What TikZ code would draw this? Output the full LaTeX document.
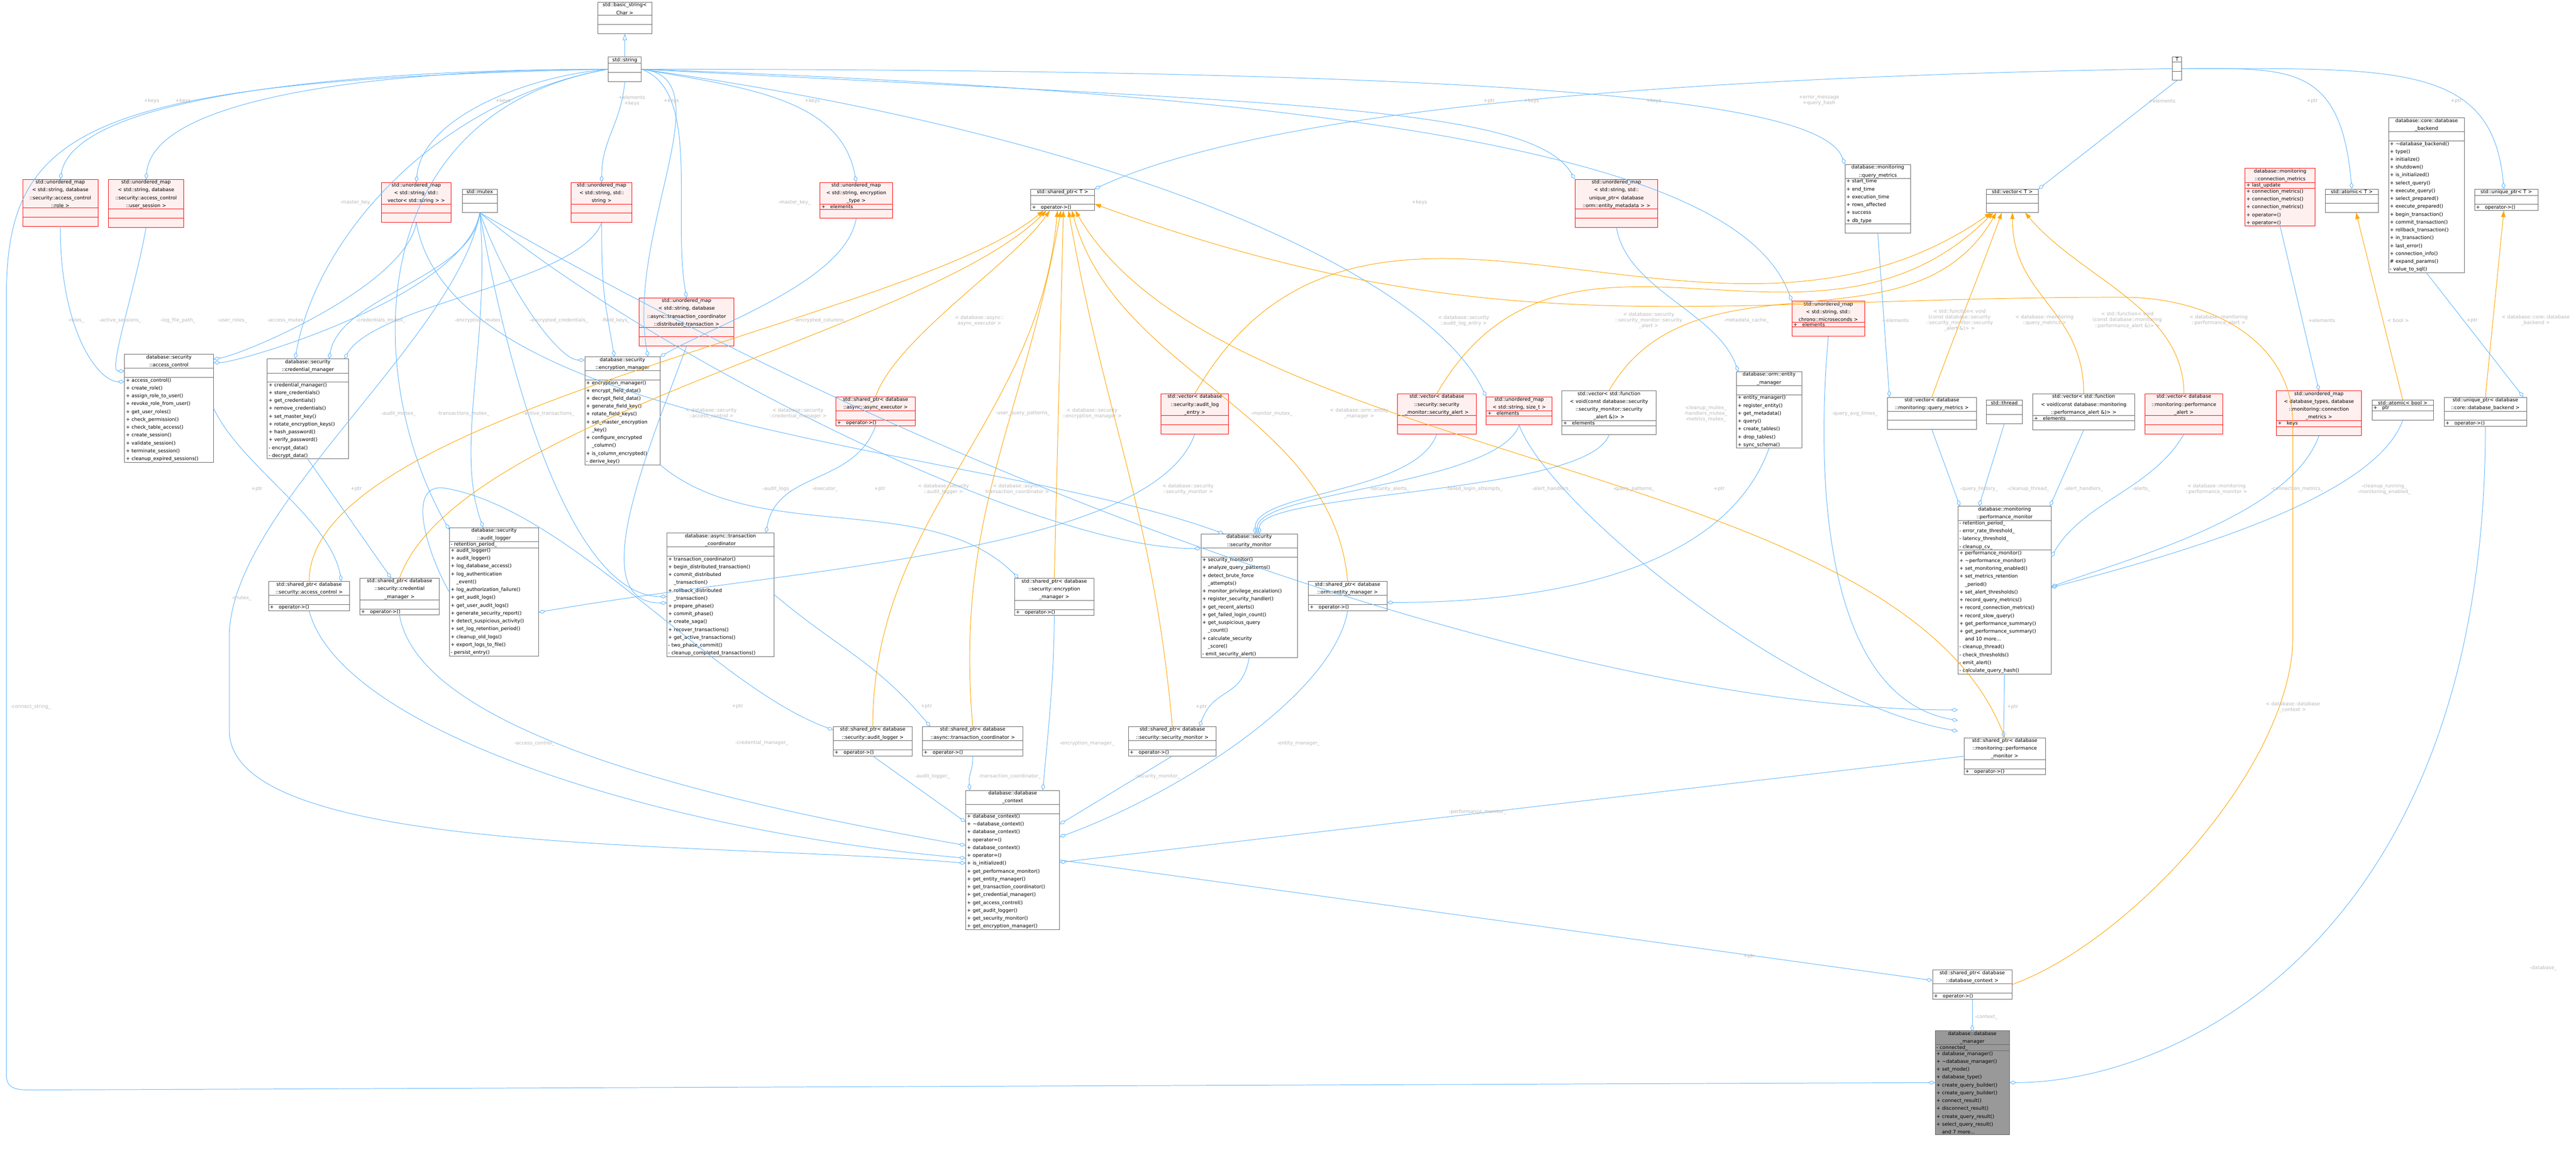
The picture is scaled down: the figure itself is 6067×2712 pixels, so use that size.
\documentclass[tikz,border=0pt]{standalone}
\usepackage{fontspec}
\setmainfont{DejaVu Sans}
\usetikzlibrary{shapes.multipart,arrows.meta}
\definecolor{eblue}{HTML}{63B8FF}
\definecolor{eorange}{HTML}{FFA500}
\definecolor{lblgray}{HTML}{B8B8B8}
\definecolor{boxgray}{HTML}{666666}
\definecolor{redfill}{HTML}{FFF0F0}
\definecolor{maingray}{HTML}{999999}
\newcommand\fs{\fontsize{11.5}{18.5}\selectfont}
\newcommand\ls{\fontsize{11.5}{13.5}\selectfont}
\newcommand\ptwo{\nodepart{two}\raggedright}
\newcommand\pthree{\nodepart{three}\raggedright}
\tikzset{
 cls/.style={draw=boxgray, fill=white, line width=1pt, rectangle split, rectangle split parts=3,
   align=left, font=\fs, inner xsep=3pt, inner ysep=1pt,
   anchor=north west, text width=#1, execute at begin node=\centering},
 rcls/.style={cls=#1, draw=red, fill=redfill},
 mcls/.style={cls=#1, fill=maingray},
 agg/.style={draw=eblue, line width=1.2pt, -{Diamond[open,length=16pt,width=9pt]}},
 tmpl/.style={draw=eorange, line width=1.2pt, -{Triangle[length=15pt,width=10pt]}},
 inh/.style={draw=eblue, line width=1.2pt, -{Triangle[open,length=15pt,width=10pt]}},
 lbl/.style={font=\ls, text=lblgray, align=center, inner sep=0pt},
}
\begin{document}
\catcode`\_=12
\begin{tikzpicture}[x=1pt,y=1pt]
\useasboundingbox (0,0) rectangle (6067,-2712);
\fill[white] (0,0) rectangle (6067,-2712);
% ---------- nodes ----------
\node[cls=122] (bs) at (1407,-5) {std::basic_string<\\Char >\ptwo\strut\pthree\strut};
\node[cls=72] (str) at (1432,-134) {std::string\ptwo\strut\pthree\strut};
\node[cls=16] (T) at (5116,-134) {T\ptwo\strut\pthree\strut};
\node[rcls=171] (umaprole) at (53,-422) {std::unordered_map\\< std::string, database\\::security::access_control\\::role >\ptwo\strut\pthree\strut};
\node[rcls=171] (umapsess) at (255,-422) {std::unordered_map\\< std::string, database\\::security::access_control\\::user_session >\ptwo\strut\pthree\strut};
\node[rcls=158] (umapvs) at (898,-429) {std::unordered_map\\< std::string, std::\\vector< std::string > >\ptwo\strut\pthree\strut};
\node[cls=77] (mutex) at (1088,-445) {std::mutex\ptwo\strut\pthree\strut};
\node[rcls=137] (umapss) at (1345,-429) {std::unordered_map\\< std::string, std::\\string >\ptwo\strut\pthree\strut};
\node[rcls=164] (umapenc) at (1931,-429) {std::unordered_map\\< std::string, encryption\\_type >\ptwo+\quad elements\pthree\strut};
\node[cls=144] (spT) at (2427,-445) {std::shared_ptr< T >\ptwo\strut\pthree+\quad operator->()};
\node[rcls=189] (umapmeta) at (3709,-422) {std::unordered_map\\< std::string, std::\\unique_ptr< database\\::orm::entity_metadata > >\ptwo\strut\pthree\strut};
\node[cls=148] (qm) at (4345,-387) {database::monitoring\\::query_metrics\ptwo+ start_time\\+ end_time\\+ execution_time\\+ rows_affected\\+ success\\+ db_type\pthree\strut};
\node[cls=116] (vecT) at (4678,-445) {std::vector< T >\ptwo\strut\pthree\strut};
\node[rcls=159] (connm) at (5287,-396) {database::monitoring\\::connection_metrics\ptwo+ last_update\pthree+ connection_metrics()\\+ connection_metrics()\\+ connection_metrics()\\+ operator=()\\+ operator=()};
\node[cls=119] (atomT) at (5476,-445) {std::atomic< T >\ptwo\strut\pthree\strut};
\node[cls=173] (backend) at (5625,-277) {database::core::database\\_backend\ptwo\strut\pthree+ \textasciitilde database_backend()\\+ type()\\+ initialize()\\+ shutdown()\\+ is_initialized()\\+ select_query()\\+ execute_query()\\+ select_prepared()\\+ execute_prepared()\\+ begin_transaction()\\+ commit_transaction()\\+ rollback_transaction()\\+ in_transaction()\\+ last_error()\\+ connection_info()\\\# expand_params()\\- value_to_sql()};
\node[cls=143] (uniqT) at (5828,-445) {std::unique_ptr< T >\ptwo\strut\pthree+\quad operator->()};
\node[cls=203] (ac) at (293,-834) {database::security\\::access_control\ptwo\strut\pthree+ access_control()\\+ create_role()\\+ assign_role_to_user()\\+ revoke_role_from_user()\\+ get_user_roles()\\+ check_permission()\\+ check_table_access()\\+ create_session()\\+ validate_session()\\+ terminate_session()\\+ cleanup_expired_sessions()};
\node[cls=185] (cm) at (629,-845) {database::security\\::credential_manager\ptwo\strut\pthree+ credential_manager()\\+ store_credentials()\\+ get_credentials()\\+ remove_credentials()\\+ set_master_key()\\+ rotate_encryption_keys()\\+ hash_password()\\+ verify_password()\\- encrypt_data()\\- decrypt_data()};
\node[cls=171] (em) at (1377,-840) {database::security\\::encryption_manager\ptwo\strut\pthree+ encryption_manager()\\+ encrypt_field_data()\\+ decrypt_field_data()\\+ generate_field_key()\\+ rotate_field_keys()\\+ set_master_encryption\\\phantom{+ }_key()\\+ configure_encrypted\\\phantom{+ }_column()\\+ is_column_encrypted()\\- derive_key()};
\node[cls=204] (al) at (1058,-1242) {database::security\\::audit_logger\ptwo- retention_period_\pthree+ audit_logger()\\+ audit_logger()\\+ log_database_access()\\+ log_authentication\\\phantom{+ }_event()\\+ log_authorization_failure()\\+ get_audit_logs()\\+ get_user_audit_logs()\\+ generate_security_report()\\+ detect_suspicious_activity()\\+ set_log_retention_period()\\+ cleanup_old_logs()\\+ export_logs_to_file()\\- persist_entry()};
\node[cls=185] (spac) at (632,-1369) {std::shared_ptr< database\\::security::access_control >\ptwo\strut\pthree+\quad operator->()};
\node[cls=181] (spcm) at (847,-1361) {std::shared_ptr< database\\::security::credential\\_manager >\ptwo\strut\pthree+\quad operator->()};
\node[rcls=217] (umapdt) at (1505,-701) {std::unordered_map\\< std::string, database\\::async::transaction_coordinator\\::distributed_transaction >\ptwo\strut\pthree\strut};
\node[rcls=181] (spae) at (1968,-934) {std::shared_ptr< database\\::async::async_executor >\ptwo\strut\pthree+\quad operator->()};
\node[rcls=153] (vecale) at (2734,-927) {std::vector< database\\::security::audit_log\\_entry >\ptwo\strut\pthree\strut};
\node[cls=247] (tc) at (1570,-1255) {database::async::transaction\\_coordinator\ptwo\strut\pthree+ transaction_coordinator()\\+ begin_distributed_transaction()\\+ commit_distributed\\\phantom{+ }_transaction()\\+ rollback_distributed\\\phantom{+ }_transaction()\\+ prepare_phase()\\+ commit_phase()\\+ create_saga()\\+ recover_transactions()\\+ get_active_transactions()\\- two_phase_commit()\\- cleanup_completed_transactions()};
\node[cls=181] (spem) at (2389,-1362) {std::shared_ptr< database\\::security::encryption\\_manager >\ptwo\strut\pthree+\quad operator->()};
\node[cls=221] (sm) at (2828,-1257) {database::security\\::security_monitor\ptwo\strut\pthree+ security_monitor()\\+ analyze_query_patterns()\\+ detect_brute_force\\\phantom{+ }_attempts()\\+ monitor_privilege_escalation()\\+ register_security_handler()\\+ get_recent_alerts()\\+ get_failed_login_count()\\+ get_suspicious_query\\\phantom{+ }_count()\\+ calculate_security\\\phantom{+ }_score()\\- emit_security_alert()};
\node[rcls=179] (vecsa) at (3291,-927) {std::vector< database\\::security::security\\_monitor::security_alert >\ptwo\strut\pthree\strut};
\node[rcls=149] (umapsz) at (3500,-934) {std::unordered_map\\< std::string, size_t >\ptwo+\quad elements\pthree\strut};
\node[cls=216] (vecfsa) at (3678,-920) {std::vector< std::function\\< void(const database::security\\::security_monitor::security\\_alert \&)> >\ptwo+\quad elements\pthree\strut};
\node[cls=148] (emgr) at (4089,-875) {database::orm::entity\\_manager\ptwo\strut\pthree+ entity_manager()\\+ register_entity()\\+ get_metadata()\\+ query()\\+ create_tables()\\+ drop_tables()\\+ sync_schema()};
\node[rcls=165] (umapus) at (4220,-709) {std::unordered_map\\< std::string, std::\\chrono::microseconds >\ptwo+\quad elements\pthree\strut};
\node[cls=203] (vecqm) at (4445,-935) {std::vector< database\\::monitoring::query_metrics >\ptwo\strut\pthree\strut};
\node[cls=179] (spemgr) at (3081,-1369) {std::shared_ptr< database\\::orm::entity_manager >\ptwo\strut\pthree+\quad operator->()};
\node[cls=78] (thread) at (4678,-942) {std::thread\ptwo\strut\pthree\strut};
\node[cls=234] (vecfpa) at (4787,-927) {std::vector< std::function\\< void(const database::monitoring\\::performance_alert \&)> >\ptwo+\quad elements\pthree\strut};
\node[rcls=178] (vecpa) at (5051,-927) {std::vector< database\\::monitoring::performance\\_alert >\ptwo\strut\pthree\strut};
\node[rcls=194] (umapcm) at (5361,-920) {std::unordered_map\\< database_types, database\\::monitoring::connection\\_metrics >\ptwo+\quad keys\pthree\strut};
\node[cls=139] (atomb) at (5586,-942) {std::atomic< bool >\ptwo+\quad ptr\pthree\strut};
\node[cls=188] (uniqb) at (5756,-935) {std::unique_ptr< database\\::core::database_backend >\ptwo\strut\pthree+\quad operator->()};
\node[cls=213] (pm) at (4611,-1192) {database::monitoring\\::performance_monitor\ptwo- retention_period_\\- error_rate_threshold_\\- latency_threshold_\\- cleanup_cv_\pthree+ performance_monitor()\\+ \textasciitilde performance_monitor()\\+ set_monitoring_enabled()\\+ set_metrics_retention\\\phantom{+ }_period()\\+ set_alert_thresholds()\\+ record_query_metrics()\\+ record_connection_metrics()\\+ record_slow_query()\\+ get_performance_summary()\\+ get_performance_summary()\\\phantom{+ }and 10 more...\\- cleanup_thread()\\- check_thresholds()\\- emit_alert()\\- calculate_query_hash()};
\node[cls=186] (sppm) at (4625,-1737) {std::shared_ptr< database\\::monitoring::performance\\_monitor >\ptwo\strut\pthree+\quad operator->()};
\node[cls=201] (spsm) at (2657,-1711) {std::shared_ptr< database\\::security::security_monitor >\ptwo\strut\pthree+\quad operator->()};
\node[cls=180] (spal) at (1962,-1711) {std::shared_ptr< database\\::security::audit_logger >\ptwo\strut\pthree+\quad operator->()};
\node[cls=231] (sptc) at (2172,-1711) {std::shared_ptr< database\\::async::transaction_coordinator >\ptwo\strut\pthree+\quad operator->()};
\node[cls=215] (dbc) at (2274,-1861) {database::database\\_context\ptwo\strut\pthree+ database_context()\\+ \textasciitilde database_context()\\+ database_context()\\+ operator=()\\+ database_context()\\+ operator=()\\+ is_initialized()\\+ get_performance_monitor()\\+ get_entity_manager()\\+ get_transaction_coordinator()\\+ get_credential_manager()\\+ get_access_control()\\+ get_audit_logger()\\+ get_security_monitor()\\+ get_encryption_manager()};
\node[cls=181] (spdbc) at (4551,-2284) {std::shared_ptr< database\\::database_context >\ptwo\strut\pthree+\quad operator->()};
\node[mcls=169] (dbm) at (4557,-2427) {database::database\\_manager\ptwo- connected_\pthree+ database_manager()\\+ \textasciitilde database_manager()\\+ set_mode()\\+ database_type()\\+ create_query_builder()\\+ create_query_builder()\\+ connect_result()\\+ disconnect_result()\\+ create_query_result()\\+ select_query_result()\\\phantom{+ }and 7 more...};
% ---------- blue edges ----------
\draw[inh] (str.north) -- (bs.south);
\draw[agg] (str.west) .. controls +(180:600) and +(80:200) .. (umaprole.north);
\draw[agg] (str.west) .. controls +(180:500) and +(85:200) .. (umapsess.north);
\draw[agg] (str.west) .. controls +(185:200) and +(85:150) .. (umapvs.north);
\draw[agg] (str.south) .. controls +(-95:100) and +(90:100) .. (umapss.north);
\draw[agg] (str.east) .. controls +(-20:150) and +(100:200) .. (umapdt.north);
\draw[agg] (str.east) .. controls +(-10:250) and +(100:200) .. (umapenc.north);
\draw[agg] (str.west) .. controls +(190:400) and +(80:300) .. ([xshift=-30pt]cm.north);
\draw[agg] (str.west) .. controls +(190:600) and +(120:400) .. ([yshift=-5pt]al.north west);
\draw[agg] (str.east) .. controls +(-5:200) and +(100:300) .. ([xshift=60pt]em.north);
\draw[agg] (str.east) .. controls +(-3:1500) and +(120:200) .. (umapmeta.north west);
\draw[agg] (str.east) .. controls +(-2:2000) and +(110:300) .. (umapus.north west);
\draw[agg] (str.east) .. controls +(-8:1200) and +(115:300) .. (umapsz.north west);
\draw[agg] (str.east) .. controls +(0:2200) and +(110:150) .. (qm.north west);
\draw[agg] (str.west) .. controls (200,-190) and (15,-300) .. (15,-700) -- (15,-2530) .. controls (15,-2560) and (30,-2567) .. (70,-2567) -- (dbm.west);
\draw[agg] (T.west) .. controls (4000,-180) and (3000,-250) .. (spT.north east);
\draw[agg] (T.south) -- (vecT.north east);
\draw[agg] (T.east) .. controls +(0:250) and +(95:300) .. (atomT.north);
\draw[agg] (T.east) .. controls +(0:500) and +(95:300) .. ([xshift=-6pt]uniqT.north);
% mutex
\draw[agg] (mutex.south) .. controls +(-100:200) and +(0:60) .. ([yshift=-20pt]ac.north east);
\draw[agg] (mutex.south) .. controls +(-95:150) and +(80:150) .. ([xshift=50pt]cm.north);
\draw[agg] (mutex.south) .. controls +(-70:200) and +(180:60) .. ([yshift=-8pt]em.north west);
\draw[agg] (mutex.south) .. controls +(-85:300) and +(110:200) .. ([xshift=80pt]al.north west);
\draw[agg] (mutex.south) .. controls +(-80:500) and +(180:200) .. ([yshift=-150pt]tc.north west);
\draw[agg] (mutex.south) .. controls +(-100:300) and +(90:300) .. (540,-1500) -- (540,-1720) .. controls +(-90:300) and +(175:600) .. ([yshift=-172pt]dbc.north west);
\draw[agg] (mutex.south) .. controls +(-40:500) and +(180:400) .. ([yshift=-35pt]sm.north west);
\draw[agg] (mutex.south) .. controls +(-30:1500) and +(180:800) .. ([yshift=-480pt]pm.north west);
% maps to owners
\draw[agg] (umaprole.south) .. controls +(-90:250) and +(180:60) .. ([yshift=-65pt]ac.north west);
\draw[agg] (umapsess.south) .. controls +(-100:150) and +(180:40) .. ([yshift=-40pt]ac.north west);
\draw[agg] (umapvs.south) .. controls +(-100:150) and +(10:80) .. ([yshift=-12pt]ac.north east);
\draw[agg] (umapvs.south) .. controls +(-80:500) and +(160:600) .. ([xshift=-60pt]sm.north);
\draw[agg] (umapss.south) .. controls +(-110:150) and +(60:150) .. ([xshift=-10pt]cm.north east);
\draw[agg] (umapss.south) .. controls +(-90:150) and +(100:150) .. ([xshift=70pt]em.north west);
\draw[agg] (umapenc.south) .. controls +(-100:150) and +(30:150) .. (em.north east);
\draw[agg] (umapdt.south) .. controls +(-110:250) and +(180:200) .. ([yshift=-165pt]tc.north west);
\draw[agg] (vecale.south) .. controls +(-110:300) and +(10:600) .. ([yshift=-200pt]al.north east);
\draw[agg] (spae.south) .. controls +(-110:150) and +(80:150) .. ([xshift=-20pt]tc.north east);
\draw[agg] (vecsa.south) .. controls +(-110:150) and +(90:100) .. ([xshift=-100pt]sm.north east);
\draw[agg] (umapsz.south) .. controls +(-110:150) and +(90:100) .. ([xshift=-95pt]sm.north east);
\draw[agg] (vecfsa.south) .. controls +(-110:150) and +(90:100) .. ([xshift=-90pt]sm.north east);
\draw[agg] (umapsz.south) .. controls +(-70:200) and +(170:400) .. ([yshift=-530pt]pm.north west);
\draw[agg] (umapmeta.south) .. controls +(-80:150) and +(110:150) .. ([xshift=5pt]emgr.north west);
\draw[agg] (emgr.south) .. controls +(-110:300) and +(0:400) .. ([yshift=-50pt]spemgr.north east);
\draw[agg] (umapus.south) .. controls +(-95:400) and +(170:300) .. ([yshift=-505pt]pm.north west);
\draw[agg] (qm.south) -- ([xshift=5pt]vecqm.north west);
\draw[agg] (vecqm.south) -- ([xshift=5pt]pm.north west);
\draw[agg] (thread.south) -- ([xshift=50pt]pm.north west);
\draw[agg] (vecfpa.south) -- ([xshift=-3pt]pm.north east);
\draw[agg] (vecpa.south) .. controls +(-120:150) and +(60:150) .. ([yshift=-120pt]pm.north east);
\draw[agg] (connm.south) -- (umapcm.north);
\draw[agg] (umapcm.south) .. controls +(-110:200) and +(20:200) .. ([yshift=-190pt]pm.north east);
\draw[agg] (atomb.south) .. controls +(-110:200) and +(15:300) .. ([yshift=-192pt]pm.north east);
\draw[agg] (backend.south) -- ([xshift=-8pt]uniqb.north east);
\draw[agg] (uniqb.south) .. controls +(-90:1200) and +(0:400) .. (dbm.east);
\draw[agg] (pm.south) -- ([xshift=-3pt]sppm.north);
\draw[agg] (sppm.west) -- ([yshift=-170pt]dbc.north east);
\draw[agg] (spemgr.south) .. controls +(-100:200) and +(20:300) .. ([yshift=-110pt]dbc.north east);
\draw[agg] (spsm.south) -- ([yshift=-80pt]dbc.north east);
\draw[agg] (spem.south) .. controls +(-90:150) and +(85:100) .. ([xshift=-40pt]dbc.north east);
\draw[agg] (sptc.south) .. controls +(-90:40) and +(95:40) .. ([xshift=10pt]dbc.north west);
\draw[agg] (spal.south) -- ([yshift=-75pt]dbc.north west);
\draw[agg] (spcm.south) .. controls +(-80:300) and +(170:500) .. ([yshift=-130pt]dbc.north west);
\draw[agg] (spac.south) .. controls +(-75:300) and +(175:700) .. ([yshift=-160pt]dbc.north west);
\draw[agg] (ac.east) .. controls +(-65:150) and +(100:150) .. ([xshift=-20pt]spac.north east);
\draw[agg] (cm.south) -- ([xshift=-20pt]spcm.north);
\draw[agg] (al.west) .. controls +(120:100) and +(170:100) .. (1050,-1150) .. controls +(-10:300) and +(160:300) .. ([yshift=-8pt]spal.north west);
\draw[agg] (tc.east) .. controls +(-40:200) and +(130:200) .. ([xshift=-100pt]sptc.north);
\draw[agg] (em.south east) .. controls +(-40:300) and +(135:300) .. ([xshift=10pt]spem.north west);
\draw[agg] (sm.south) .. controls +(-100:100) and +(70:100) .. ([xshift=-40pt]spsm.north east);
\draw[agg] (dbc.east) -- ([yshift=-25pt]spdbc.north west);
\draw[agg] (spdbc.south) -- ([yshift=-2pt]dbm.north);
% ---------- orange edges ----------
\draw[tmpl] (spac.north) .. controls +(90:400) and +(-140:400) .. ([xshift=-45pt]spT.south);
\draw[tmpl] (spcm.north) .. controls +(70:400) and +(-135:400) .. ([xshift=-38pt]spT.south);
\draw[tmpl] (spae.north) .. controls +(70:150) and +(-125:150) .. ([xshift=-30pt]spT.south);
\draw[tmpl] (spal.north) .. controls +(90:500) and +(-95:500) .. ([xshift=-12pt]spT.south);
\draw[tmpl] (sptc.north) .. controls +(95:500) and +(-100:500) .. ([xshift=-4pt]spT.south);
\draw[tmpl] (spem.north) -- ([xshift=2pt]spT.south);
\draw[tmpl] (spsm.north) .. controls +(95:500) and +(-80:500) .. ([xshift=14pt]spT.south);
\draw[tmpl] (spemgr.north) .. controls +(95:400) and +(-75:400) .. ([xshift=22pt]spT.south);
\draw[tmpl] (sppm.north) .. controls +(110:700) and +(-60:700) .. ([xshift=30pt]spT.south);
\draw[tmpl] (spdbc.east) .. controls +(20:300) and +(-90:300) .. (5400,-1500) -- (5400,-1000) .. controls +(90:200) and +(0:200) .. (5000,-700) .. controls +(180:1000) and +(-20:1000) .. ([yshift=-10pt]spT.east);
\draw[tmpl] (vecale.north) .. controls +(60:800) and +(-145:800) .. ([xshift=-50pt]vecT.south);
\draw[tmpl] (vecsa.north) .. controls +(60:600) and +(-135:600) .. ([xshift=-45pt]vecT.south);
\draw[tmpl] (vecfsa.north) .. controls +(60:400) and +(-120:400) .. ([xshift=-38pt]vecT.south);
\draw[tmpl] (vecqm.north) .. controls +(70:200) and +(-110:200) .. ([xshift=-25pt]vecT.south);
\draw[tmpl] (vecfpa.north) .. controls +(90:200) and +(-90:200) .. (vecT.south);
\draw[tmpl] (vecpa.north) .. controls +(90:200) and +(-50:200) .. ([xshift=30pt]vecT.south);
\draw[tmpl] (atomb.north) -- ([xshift=10pt]atomT.south);
\draw[tmpl] (uniqb.north) -- ([xshift=-6pt]uniqT.south);
% ---------- labels ----------
\node[lbl] (l1) at (357,-238) {+keys};
\node[lbl] (l2) at (431,-238) {+keys};
\node[lbl] (l3) at (1185,-238) {+keys};
\node[lbl] (l4) at (1488,-237) {+elements\\+keys};
\node[lbl] (l5) at (1581,-238) {+keys};
\node[lbl] (l6) at (1913,-238) {+keys};
\node[lbl] (l7) at (839,-477) {-master_key_};
\node[lbl] (l8) at (1871,-477) {-master_key_};
\node[lbl] (l9) at (3507,-238) {+ptr};
\node[lbl] (l10) at (3607,-238) {+keys};
\node[lbl] (l11) at (3895,-238) {+keys};
\node[lbl] (l12) at (4284,-237) {+error_message\\+query_hash};
\node[lbl] (l13) at (3343,-477) {+keys};
\node[lbl] (l14) at (5092,-238) {+elements};
\node[lbl] (l15) at (5446,-238) {+ptr};
\node[lbl] (l16) at (5785,-238) {+ptr};
\node[lbl] (l17) at (179,-755) {-roles_};
\node[lbl] (l18) at (283,-755) {-active_sessions_};
\node[lbl] (l19) at (419,-755) {-log_file_path_};
\node[lbl] (l20) at (547,-755) {-user_roles_};
\node[lbl] (l21) at (675,-755) {-access_mutex_};
\node[lbl] (l22) at (897,-755) {-credentials_mutex_};
\node[lbl] (l23) at (1128,-755) {-encryption_mutex_};
\node[lbl] (l24) at (1316,-755) {-encrypted_credentials_};
\node[lbl] (l25) at (1450,-755) {-field_keys_};
\node[lbl] (l26) at (938,-974) {-audit_mutex_};
\node[lbl] (l27) at (1091,-974) {-transactions_mutex_};
\node[lbl] (l28) at (1292,-974) {-active_transactions_};
\node[lbl] (l29) at (605,-1152) {+ptr};
\node[lbl] (l30) at (839,-1152) {+ptr};
\node[lbl] (l31) at (569,-1409) {-mutex_};
\node[lbl] (l32) at (1932,-755) {-encrypted_columns_};
\node[lbl] (l33) at (2307,-755) {< database::async::\\async_executor >};
\node[lbl] (l34) at (1675,-974) {< database::security\\::access_control >};
\node[lbl] (l35) at (1879,-974) {< database::security\\::credential_manager >};
\node[lbl] (l36) at (2409,-974) {-user_query_patterns_};
\node[lbl] (l37) at (2572,-974) {< database::security\\::encryption_manager >};
\node[lbl] (l38) at (2995,-974) {-monitor_mutex_};
\node[lbl] (l39) at (1830,-1152) {-audit_logs_};
\node[lbl] (l40) at (1943,-1152) {-executor_};
\node[lbl] (l41) at (2072,-1152) {+ptr};
\node[lbl] (l42) at (2222,-1152) {< database::security\\::audit_logger >};
\node[lbl] (l43) at (2396,-1152) {< database::async::\\transaction_coordinator >};
\node[lbl] (l44) at (2798,-1152) {< database::security\\::security_monitor >};
\node[lbl] (l45) at (3447,-755) {< database::security\\::audit_log_entry >};
\node[lbl] (l46) at (3883,-755) {< database::security\\::security_monitor::security\\_alert >};
\node[lbl] (l47) at (4113,-755) {-metadata_cache_};
\node[lbl] (l48) at (4464,-755) {+elements};
\node[lbl] (l49) at (3201,-974) {< database::orm::entity\\_manager >};
\node[lbl] (l50) at (4017,-974) {-cleanup_mutex_\\-handlers_mutex_\\-metrics_mutex_};
\node[lbl] (l51) at (4368,-974) {-query_avg_times_};
\node[lbl] (l52) at (3272,-1152) {-security_alerts_};
\node[lbl] (l53) at (3472,-1152) {-failed_login_attempts_};
\node[lbl] (l54) at (3654,-1152) {-alert_handlers_};
\node[lbl] (l55) at (3848,-1152) {-query_patterns_};
\node[lbl] (l56) at (4049,-1152) {+ptr};
\node[lbl] (l57) at (4615,-754) {< std::function< void\\(const database::security\\::security_monitor::security\\_alert \&)> >};
\node[lbl] (l58) at (4815,-754) {< database::monitoring\\::query_metrics >};
\node[lbl] (l59) at (5010,-754) {< std::function< void\\(const database::monitoring\\::performance_alert \&)> >};
\node[lbl] (l60) at (5225,-754) {< database::monitoring\\::performance_alert >};
\node[lbl] (l61) at (5468,-755) {+elements};
\node[lbl] (l62) at (5648,-755) {< bool >};
\node[lbl] (l63) at (5822,-755) {+ptr};
\node[lbl] (l64) at (5972,-754) {< database::core::database\\_backend >};
\node[lbl] (l65) at (4661,-1152) {-query_history_};
\node[lbl] (l66) at (4777,-1152) {-cleanup_thread_};
\node[lbl] (l67) at (4907,-1152) {-alert_handlers_};
\node[lbl] (l68) at (5043,-1152) {-alerts_};
\node[lbl] (l69) at (5220,-1152) {< database::monitoring\\::performance_monitor >};
\node[lbl] (l70) at (5410,-1152) {-connection_metrics_};
\node[lbl] (l71) at (5615,-1152) {-cleanup_running_\\-monitoring_enabled_};
\node[lbl] (l72) at (4740,-1665) {+ptr};
\node[lbl] (l73) at (5400,-1665) {< database::database\\_context >};
\node[lbl] (l74) at (2829,-1665) {+ptr};
\node[lbl] (l75) at (2560,-1751) {-encryption_manager_};
\node[lbl] (l76) at (2726,-1829) {-security_monitor_};
\node[lbl] (l77) at (3058,-1751) {-entity_manager_};
\node[lbl] (l78) at (4119,-2252) {+ptr};
\node[lbl] (l79) at (4678,-2395) {-context_};
\node[lbl] (l80) at (1737,-1664) {+ptr};
\node[lbl] (l81) at (2182,-1664) {+ptr};
\node[lbl] (l82) at (1794,-1750) {-credential_manager_};
\node[lbl] (l83) at (2196,-1829) {-audit_logger_};
\node[lbl] (l84) at (2378,-1829) {-transaction_coordinator_};
\node[lbl] (l85) at (72,-1665) {-connect_string_};
\node[lbl] (l86) at (1258,-1751) {-access_control_};
\node[lbl] (l87) at (3480,-1912) {-performance_monitor_};
\node[lbl] (l88) at (5990,-2280) {-database_};
\end{tikzpicture}
\end{document}
